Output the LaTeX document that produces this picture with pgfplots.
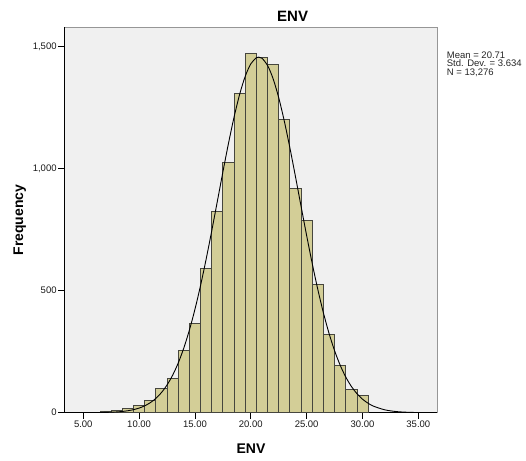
\documentclass[border=0pt]{standalone}
\usepackage{fontspec}
\setmainfont{Liberation Sans}
\usepackage{pgfplots}
\pgfplotsset{compat=1.18}

\definecolor{barfill}{RGB}{211,206,151}
\definecolor{baredge}{RGB}{70,70,62}
\definecolor{plotbg}{RGB}{240,240,240}
\definecolor{frameg}{RGB}{150,150,150}

\begin{document}
\begin{tikzpicture}[x=1bp,y=1bp]
\path[use as bounding box] (0,0) rectangle (526,461);
\begin{axis}[
  at={(64.3bp,48.3bp)}, anchor=south west,
  scale only axis, width=373bp, height=385.2bp,
  xmin=3.3, xmax=36.7, ymin=0, ymax=1579,
  axis x line*=bottom, axis y line*=left,
  axis line style={black, line width=0.8bp, -},
  axis background/.style={fill=plotbg, draw=frameg, line width=0.8bp},
  xtick={5,10,...,35}, ytick={0,500,1000,1500},
  tick align=outside, major tick length=6bp,
  tick style={black, line width=0.8bp},
  scaled x ticks=false, scaled y ticks=false,
  /pgf/number format/assume math mode=true,
  ticklabel style={font=\fontsize{9.5bp}{11bp}\selectfont, text=black!90, inner sep=1.5bp},
  xticklabel style={/pgf/number format/fixed, /pgf/number format/fixed zerofill,
    /pgf/number format/precision=2},
  yticklabel style={/pgf/number format/1000 sep={,}},
]
% frequency per unit-wide bin, left bin edges
\addplot[ybar interval, fill=barfill, draw=baredge, line width=0.8bp] coordinates {
  (5.5,2) (6.5,7) (7.5,8) (8.5,16) (9.5,31) (10.5,52) (11.5,98) (12.5,141)
  (13.5,256) (14.5,365) (15.5,593) (16.5,824) (17.5,1026) (18.5,1308)
  (19.5,1474) (20.5,1455) (21.5,1428) (22.5,1203) (23.5,921) (24.5,787)
  (25.5,525) (26.5,319) (27.5,192) (28.5,96) (29.5,72) (30.5,0)
};
% fitted normal curve (mean 20.71, sd 3.634, n 13276)
\addplot[black, line width=0.9bp, smooth] coordinates {
  (4,0.04) (5,0.13) (6,0.40) (7,1.18) (8,3.22) (8.5,5.15) (9,8.10) (9.5,12.5)
  (10,18.95) (10.5,28.2) (11,41.0) (11.5,58.7) (12,82.5) (12.5,113.6)
  (13,153.5) (13.5,203.6) (14,265.0) (14.5,338.5) (15,424.1) (15.5,521.5)
  (16,629.3) (16.5,745.0) (17,865.5) (17.5,986.7) (18,1103.7) (18.5,1211.4)
  (19,1304.8) (19.5,1378.9) (20,1429.9) (20.5,1455.1) (20.71,1457.5)
  (21,1452.9) (21.5,1423.5) (22,1368.5) (22.5,1291.0) (23,1195.0)
  (23.5,1085.5) (24,967.4) (24.5,846.1) (25,726.1) (25.5,611.4) (26,505.2)
  (26.5,409.6) (27,325.9) (27.5,254.4) (28,194.9) (28.5,146.5) (29,108.0)
  (29.5,78.2) (30,55.5) (30.5,38.7) (31,26.5) (32,11.7) (33,4.78)
  (34,1.82) (35,0.64) (36,0.21)
};
\end{axis}
\node[anchor=base, font=\fontsize{15bp}{18bp}\selectfont\bfseries] at (292.6,439.3) {ENV};
\node[anchor=base, font=\fontsize{14bp}{16bp}\selectfont\bfseries] at (251,7) {ENV};
\node[anchor=base, rotate=90, font=\fontsize{14bp}{16bp}\selectfont\bfseries] at (23,241) {Frequency};
\begin{scope}[every node/.style={anchor=base west, inner sep=0pt, text=black!85,
    font=\fontsize{9.5bp}{11bp}\selectfont}]
\node at (446.7,402.5) {Mean = 20.71};
\node at (446.7,394.0) {Std. Dev. = 3.634};
\node at (446.7,385.5) {N = 13,276};
\end{scope}
\end{tikzpicture}
\end{document}
